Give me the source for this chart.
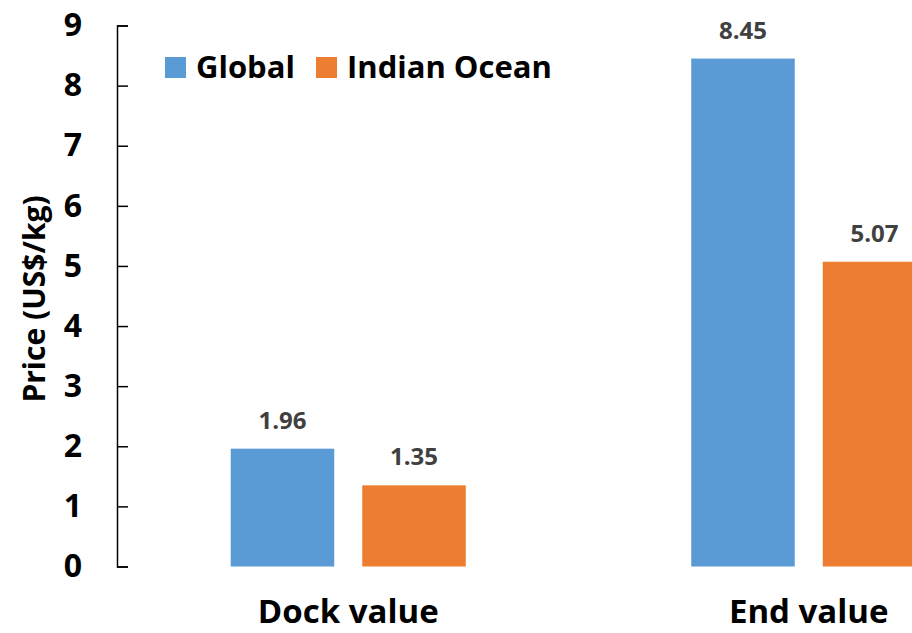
<!DOCTYPE html>
<html>
<head>
<meta charset="utf-8">
<script src="https://cdn.jsdelivr.net/npm/d3@7"></script>
<style>
  body { margin: 0; background: #fff; }
  svg { display: block; font-family: "Open Sans", sans-serif; font-weight: bold; }
</style>
</head>
<body>
<div id="chart"></div>
<script>
const categories = ["Dock value", "End value"];
const seriesNames = ["Global", "Indian Ocean"];
const globalValues = [1.96, 8.45];
const indianValues = [1.35, 5.07];
const yTicks = [0, 1, 2, 3, 4, 5, 6, 7, 8, 9];
const colors = ["#5B9BD5", "#ED7D31"];

let width = 912,
  height = 633,
  margin = { top: 25.5, left: 117, bottom: 66 };

const svg = d3
  .select("#chart")
  .append("svg")
  .attr("width", width)
  .attr("height", height);

// plot area continues past the right edge, like the cropped original
let x0 = d3
  .scaleBand()
  .domain(categories)
  .range([118, 1039])
  .padding(0);

let x1 = d3
  .scaleBand()
  .domain(seriesNames)
  .range([0, x0.bandwidth()])
  .paddingInner(0.213)
  .paddingOuter(0.857);

let y = d3
  .scaleLinear()
  .domain([0, 9])
  .range([height - margin.bottom - 0.5, margin.top]);

const rows = categories.map((c, i) => ({
  category: c,
  values: [globalValues[i], indianValues[i]],
}));

// bars
const groups = svg
  .selectAll(".group")
  .data(rows)
  .join("g")
  .attr("class", "group")
  .attr("transform", (d) => `translate(${x0(d.category)},0)`);

groups
  .selectAll("rect")
  .data((d) => d.values.map((v, j) => ({ name: seriesNames[j], value: v, j })))
  .join("rect")
  .attr("x", (d) => x1(d.name))
  .attr("width", x1.bandwidth())
  .attr("y", (d) => y(d.value))
  .attr("height", (d) => y(0) - y(d.value))
  .attr("fill", (d) => colors[d.j]);

groups
  .selectAll(".val")
  .data((d) => d.values.map((v, j) => ({ name: seriesNames[j], value: v })))
  .join("text")
  .attr("class", "val")
  .attr("x", (d) => x1(d.name) + x1.bandwidth() / 2)
  .attr("y", (d) => y(d.value) - 20)
  .attr("text-anchor", "middle")
  .attr("fill", "#404040")
  .style("font-size", "24px")
  .text((d) => d.value.toFixed(2));

// y axis, ticks pointing inward
const yAxis = svg
  .append("g")
  .attr("transform", `translate(${margin.left},0)`)
  .call(
    d3
      .axisLeft(y)
      .tickValues(yTicks)
      .tickSize(-11)
      .tickPadding(35)
      .tickFormat(d3.format("d"))
  );
yAxis.selectAll("path, line").attr("stroke", "#000").attr("stroke-width", 1.5);
yAxis
  .selectAll("text")
  .attr("fill", "#000")
  .style("font-size", "32px")
  .style("font-family", "Open Sans")
  .style("font-weight", "bold");

// category labels
svg
  .selectAll(".cat")
  .data(categories)
  .join("text")
  .attr("class", "cat")
  .attr("x", (d) => x0(d) + x0.bandwidth() / 2)
  .attr("y", 623)
  .attr("text-anchor", "middle")
  .style("font-size", "33px")
  .text((d) => d);

// y axis title
svg
  .append("text")
  .attr("transform", "translate(45,299) rotate(-90)")
  .attr("text-anchor", "middle")
  .style("font-size", "30px")
  .text("Price (US$/kg)");

// legend
const legendX = [165, 316];
const legend = svg
  .selectAll(".legend")
  .data(seriesNames)
  .join("g")
  .attr("class", "legend")
  .attr("transform", (d, i) => `translate(${legendX[i]},57)`);

legend
  .append("rect")
  .attr("width", 21)
  .attr("height", 21)
  .attr("fill", (d, i) => colors[i]);

legend
  .append("text")
  .attr("x", 31)
  .attr("y", 21)
  .style("font-size", "31px")
  .text((d) => d);
</script>
</body>
</html>
